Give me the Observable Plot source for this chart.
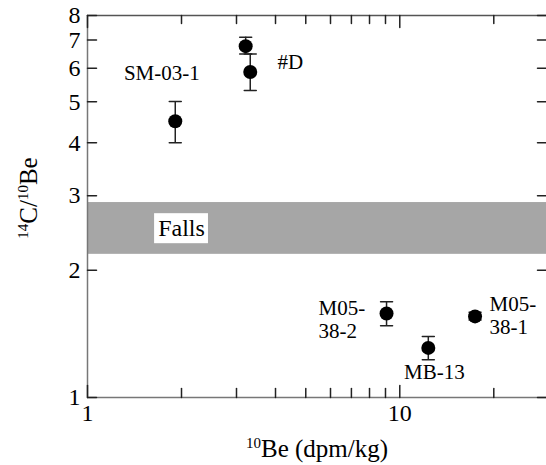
<!DOCTYPE html>
<html><head><meta charset="utf-8">
<script src="https://cdn.jsdelivr.net/npm/d3@7"></script>
<script src="https://cdn.jsdelivr.net/npm/@observablehq/plot@0.6"></script>
<style>body{margin:0;background:#fff} svg{display:block}</style>
</head><body><div id="chart"></div>
<script>
// Sample measurements
const samples = ["SM-03-1", "#D (a)", "#D (b)", "M05-38-2", "MB-13", "M05-38-1"];
const be10    = [1.91, 3.21, 3.32, 9.07, 12.34, 17.42];      // 10Be (dpm/kg)
const ratio   = [4.50, 6.77, 5.88, 1.58, 1.31, 1.555];       // 14C/10Be
const errLow  = [4.00, 6.49, 5.32, 1.478, 1.228, 1.525];
const errHigh = [5.01, 7.11, 6.49, 1.684, 1.394, 1.59];

// Falls band (14C/10Be range)
const bandLow = [2.18];
const bandHigh = [2.89];

// Annotations (data coordinates)
const labelText = ["SM-03-1", "#D", "M05-\n38-2", "MB-13", "M05-\n38-1"];
const labelX    = [1.73, 4.06, 5.49, 12.91, 19.38];
const labelY    = [5.87, 6.23, 1.53, 1.15, 1.565];
const labelAnchor = ["middle", "start", "start", "middle", "start"];

const fallsText = ["Falls"];
const fallsX = [2.0], fallsY = [2.51];
const fallsBoxX1 = [1.64], fallsBoxX2 = [2.44], fallsBoxY1 = [2.31], fallsBoxY2 = [2.72];

// Ticks
const yTicks = [1, 2, 3, 4, 5, 6, 7, 8];
const xMajor = [1, 10];
const xMinor = [2, 3, 4, 5, 6, 7, 8, 9, 20];
const xDomain = [1, 29.5];
const yDomain = [1, 8];

const points = samples.map((s, i) => ({s, x: be10[i], y: ratio[i], lo: errLow[i], hi: errHigh[i]}));
const labels = labelText.map((t, i) => ({t, x: labelX[i], y: labelY[i], a: labelAnchor[i]}));
const band = bandLow.map((lo, i) => ({lo, hi: bandHigh[i]}));
const fallsBox = fallsText.map((t, i) => ({t, x: fallsX[i], y: fallsY[i], x1: fallsBoxX1[i], x2: fallsBoxX2[i], y1: fallsBoxY1[i], y2: fallsBoxY2[i]}));

const tickLine = {draw(ctx, l) { ctx.moveTo(0, 0); ctx.lineTo(0, -l); }};
const FONT = "Liberation Serif";

const chart = Plot.plot({
  width: 546, height: 465,
  marginLeft: 87, marginRight: 0, marginTop: 15, marginBottom: 68,
  style: {background: "white", color: "black", fontFamily: FONT},
  x: {type: "log", domain: xDomain},
  y: {type: "log", domain: yDomain},
  marks: [
    Plot.rect(band, {y1: "lo", y2: "hi", fill: "#a6a6a6"}),
    Plot.rect(fallsBox, {x1: "x1", x2: "x2", y1: "y1", y2: "y2", fill: "white"}),
    Plot.text(fallsBox, {x: "x", y: "y", text: "t", fontSize: 24, fill: "black", fontFamily: FONT}),
    // axis lines (left, bottom, top)
    Plot.ruleX([xDomain[0]], {x: d => d, stroke: "#777", strokeWidth: 1.5}),
    Plot.ruleY([yDomain[0]], {y: d => d, stroke: "#777", strokeWidth: 1.5}),
    Plot.ruleY([yDomain[1]], {y: d => d, stroke: "#555", strokeWidth: 1.5}),
    // inward ticks
    Plot.vector(yTicks, {y: d => d, frameAnchor: "left", rotate: 90, length: 9, anchor: "start", shape: tickLine, stroke: "#222"}),
    Plot.vector(yTicks, {y: d => d, frameAnchor: "right", rotate: -90, length: 9, anchor: "start", shape: tickLine, stroke: "#222"}),
    Plot.vector(xMinor, {x: d => d, frameAnchor: "bottom", rotate: 0, length: 9, anchor: "start", shape: tickLine, stroke: "#222"}),
    Plot.vector(xMajor, {x: d => d, frameAnchor: "bottom", rotate: 0, length: 12, anchor: "start", shape: tickLine, stroke: "#222"}),
    Plot.vector(xMinor, {x: d => d, frameAnchor: "top", rotate: 180, length: 8, anchor: "start", shape: tickLine, stroke: "#222"}),
    Plot.vector(xMajor, {x: d => d, frameAnchor: "top", rotate: 180, length: 12, anchor: "start", shape: tickLine, stroke: "#222"}),
    Plot.axisY({ticks: yTicks, tickSize: 0, tickPadding: 7, tickFormat: d => String(d), fontSize: 24, label: null, fontFamily: FONT}),
    Plot.axisX({ticks: xMajor, tickSize: 0, tickPadding: 6, tickFormat: d => String(d), fontSize: 24, label: null, fontFamily: FONT}),
    // error bars
    Plot.ruleX(points, {x: "x", y1: "lo", y2: "hi", stroke: "#222", strokeWidth: 1.5}),
    Plot.vector(points, {x: "x", y: "hi", rotate: 90, length: 12, anchor: "middle", shape: tickLine, stroke: "#222", strokeWidth: 1.5}),
    Plot.vector(points, {x: "x", y: "lo", rotate: 90, length: 12, anchor: "middle", shape: tickLine, stroke: "#222", strokeWidth: 1.5}),
    Plot.dot(points, {x: "x", y: "y", r: 7, fill: "black"}),
    Plot.text(labels.filter(d => d.a === "middle"), {x: "x", y: "y", text: "t", textAnchor: "middle", fontSize: 21, lineHeight: 1.1, fill: "black", fontFamily: FONT}),
    Plot.text(labels.filter(d => d.a === "start"), {x: "x", y: "y", text: "t", textAnchor: "start", fontSize: 21, lineHeight: 1.08, fill: "black", fontFamily: FONT})
  ]
});

const svg = d3.select(chart);
// x-axis title with superscript
const xt = svg.append("text").attr("x", 317).attr("y", 457).attr("text-anchor", "middle")
  .attr("font-family", FONT).attr("font-size", 25).attr("fill", "black");
xt.append("tspan").attr("font-size", 15).attr("dy", -9).text("10");
xt.append("tspan").attr("dy", 9).text("Be (dpm/kg)");
// y-axis title
const yt = svg.append("text").attr("transform", "translate(37,198) rotate(-90)").attr("text-anchor", "middle")
  .attr("font-family", FONT).attr("font-size", 25).attr("fill", "black");
yt.append("tspan").attr("font-size", 15).attr("dy", -9).text("14");
yt.append("tspan").attr("dy", 9).text("C/");
yt.append("tspan").attr("font-size", 15).attr("dy", -9).text("10");
yt.append("tspan").attr("dy", 9).text("Be");

document.getElementById("chart").append(chart);
</script>
</body></html>
